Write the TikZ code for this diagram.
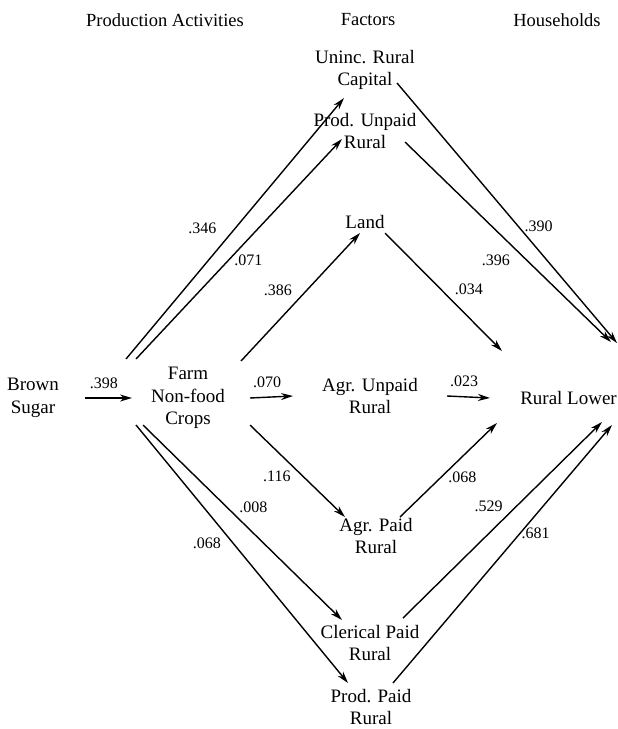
\documentclass[tikz,border=0pt]{standalone}
\usepackage{fontspec}
\setmainfont{Liberation Serif}
\usetikzlibrary{arrows.meta, positioning}

\begin{document}
\begin{tikzpicture}[x=1pt, y=-1pt,
  box/.style={align=center, inner sep=0pt, font=\fontsize{19}{22.5}\selectfont},
  head/.style={inner sep=0pt, font=\fontsize{18.5}{22}\selectfont},
  val/.style={inner sep=0pt, font=\fontsize{16}{18}\selectfont},
  arr/.style={-{Stealth[length=12pt, width=7pt]}, line width=1.4pt}]

  \useasboundingbox (0,0) rectangle (618,729);

  % column heads
  \node[head] (hact) at (165,20) {Production Activities};
  \node[head] (hfac) at (368,20) {Factors};
  \node[head] (hhh)  at (557,20) {Households};

  % accounts
  \node[box] (brown)    at (33,398)  {Brown\\Sugar};
  \node[box] (farm)     at (188,398) {Farm\\Non-food\\Crops};
  \node[box] (uninc)    at (365,70)  {Uninc. Rural\\Capital};
  \node[box] (produnp)  at (365,131) {Prod. Unpaid\\Rural};
  \node[box] (land)     at (365,222) {Land};
  \node[box] (agrunp)   at (370,396) {Agr. Unpaid\\Rural};
  \node[box] (agrpaid)  at (376,536) {Agr. Paid\\Rural};
  \node[box] (clerical) at (370,643) {Clerical Paid\\Rural};
  \node[box] (prodpaid) at (371,707) {Prod. Paid\\Rural};
  \node[box, anchor=east] (rl) at (617,398) {Rural Lower};

  % straight path
  \draw[arr] ([shift={(52,0)}]brown.center) -- ([shift={(-56,0)}]farm.center)
    node[val, pos=.4, above=9pt]{.398};
  \draw[arr] ([shift={(62,0)}]farm.center) -- ([shift={(-77,0)}]agrunp.center)
    node[val, pos=.4, above=9pt]{.070};
  \draw[arr] ([shift={(77,0)}]agrunp.center) -- ([shift={(-127,0)}]rl.east)
    node[val, pos=.4, above=9pt]{.023};

  % upper half
  \draw[arr] ([shift={(-62,-39)}]farm.center) -- ([shift={(-21,28)}]uninc.center)
    node[val, pos=.5, left=18pt]{.346};
  \draw[arr] ([shift={(-52,-39)}]farm.center) -- ([shift={(-23,8)}]produnp.center)
    node[val, pos=.45, right=5pt]{.071};
  \draw[arr] ([shift={(53,-37)}]farm.center) -- ([shift={(-5,11)}]land.center)
    node[val, pos=.55, left=14pt]{.386};
  \draw[arr] ([shift={(32,13)}]uninc.center) -- ([shift={(0,-55)}]rl.east)
    node[val, pos=.55, right=6pt]{.390};
  \draw[arr] ([shift={(40,11)}]produnp.center) -- ([shift={(-6,-56)}]rl.east)
    node[val, pos=.59, left=16pt]{.396};
  \draw[arr] ([shift={(20,11)}]land.center) -- ([shift={(-115,-47)}]rl.east)
    node[val, pos=.48, right=13pt]{.034};

  % lower half
  \draw[arr] ([shift={(62,27)}]farm.center) -- ([shift={(-31,-19)}]agrpaid.center)
    node[val, pos=.56, left=12pt]{.116};
  \draw[arr] ([shift={(-45,27)}]farm.center) -- ([shift={(-28,-23)}]clerical.center)
    node[val, pos=.42, right=12pt]{.008};
  \draw[arr] ([shift={(-52,27)}]farm.center) -- ([shift={(-23,-24)}]prodpaid.center)
    node[val, pos=.46, left=12pt]{.068};
  \draw[arr] ([shift={(24,-19)}]agrpaid.center) -- ([shift={(-120,25)}]rl.east)
    node[val, pos=.42, right=7pt]{.068};
  \draw[arr] ([shift={(33,-25)}]clerical.center) -- ([shift={(-15,24)}]rl.east)
    node[val, pos=.57, left=13pt]{.529};
  \draw[arr] ([shift={(22,-24)}]prodpaid.center) -- ([shift={(-5,27)}]rl.east)
    node[val, pos=.58, right=1pt]{.681};
\end{tikzpicture}
\end{document}
